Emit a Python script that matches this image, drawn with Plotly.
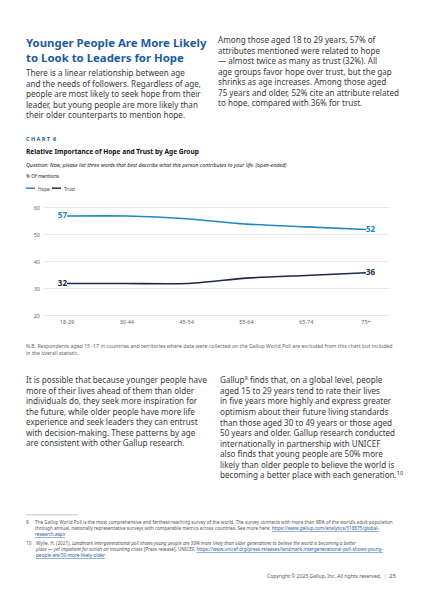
import plotly.graph_objects as go

# chart data
age_groups = ["18-29", "30-44", "45-54", "55-64", "65-74", "75+"]
hope = [57, 57, 56, 54, 53, 52]
trust = [32, 32, 32, 34, 35, 36]
y_ticks = [20, 30, 40, 50, 60]

W, H = 424, 600
OFF = 8  # the page body adds an 8px margin, so the figure is shrunk by that
BLUE = "#1d5c9f"
HOPE_C = "#2389bd"
TRUST_C = "#1b2a4c"
TEXT_C = "#3a3a3a"
FONT = "Noto Sans"
BODY = 8.1


def px(x):
    return (x - OFF) / (W - OFF)


def py(y):
    return 1 - (y - OFF) / (H - OFF)


fig = go.Figure()
for name, vals, col in [("Hope", hope, HOPE_C), ("Trust", trust, TRUST_C)]:
    fig.add_trace(go.Scatter(
        x=age_groups, y=vals, name=name, mode="lines",
        line=dict(color=col, width=1.6, shape="spline", smoothing=0.6),
        hoverinfo="skip"))
    # value labels on the first and last points only
    fig.add_trace(go.Scatter(
        x=[age_groups[0], age_groups[-1]], y=[vals[0], vals[-1]],
        mode="text", text=[str(vals[0]), str(vals[-1])],
        textposition=["middle left", "middle right"],
        textfont=dict(family=FONT, size=8, color=col, weight="bold"),
        cliponaxis=False, hoverinfo="skip"))

annotations = []


def note(x, y, text, size=BODY, color=TEXT_C, anchor="left", **kw):
    annotations.append(dict(
        x=px(x), y=py(y), xref="paper", yref="paper", text=text,
        showarrow=False, xanchor=anchor, yanchor="top", align=anchor,
        font=dict(family=FONT, size=size, color=color), **kw))


# headline + intro paragraphs
note(24, 30, "<b>Younger People Are More Likely<br>to Look to Leaders for Hope</b>",
     size=11.4, color=BLUE)
note(24, 63, "There is a linear relationship between age<br>"
             "and the needs of followers. Regardless of age,<br>"
             "people are most likely to seek hope from their<br>"
             "leader, but young people are more likely than<br>"
             "their older counterparts to mention hope.")
note(216, 29, "Among those aged 18 to 29 years, 57% of<br>"
              "attributes mentioned were related to hope<br>"
              "— almost twice as many as trust (32%). All<br>"
              "age groups favor hope over trust, but the gap<br>"
              "shrinks as age increases. Among those aged<br>"
              "75 years and older, 52% cite an attribute related<br>"
              "to hope, compared with 36% for trust.")

# chart header
note(24, 131, "<b>C H A R T  6</b>", size=5.5, color=BLUE)
note(24, 143, "<b>Relative Importance of Hope and Trust by Age Group</b>", size=6.6, color="#111111")
note(24, 158, "<i>Question: Now, please list three words that best describe what this person "
              "contributes to your life. (open-ended)</i>", size=5.3, color="#222222")
note(24, 170, "% Of mentions", size=4.8, color="#222222")

# legend (drawn by hand to keep the short swatches)
shapes = []
for x0, label, col in [(26, "Hope", HOPE_C), (52, "Trust", TRUST_C)]:
    shapes.append(dict(type="line", xref="paper", yref="paper",
                       x0=px(x0), x1=px(x0 + 9), y0=py(187), y1=py(187),
                       line=dict(color=col, width=1.5)))
    note(x0 + 10, 183, label, size=4.6, color="#444444")

# N.B. note
note(24, 340, "N.B. Respondents aged 15 -17 in countries and territories where data were collected on the "
              "Gallup World Poll are excluded from this chart but included<br>in the overall statistic.",
     size=5.2, color="#666666")

# lower body text
note(24, 373, "It is possible that because younger people have<br>"
              "more of their lives ahead of them than older<br>"
              "individuals do, they seek more inspiration for<br>"
              "the future, while older people have more life<br>"
              "experience and seek leaders they can entrust<br>"
              "with decision-making. These patterns by age<br>"
              "are consistent with other Gallup research.")
note(218, 373, "Gallup<sup>9</sup> finds that, on a global level, people<br>"
               "aged 15 to 29 years tend to rate their lives<br>"
               "in five years more highly and express greater<br>"
               "optimism about their future living standards<br>"
               "than those aged 30 to 49 years or those aged<br>"
               "50 years and older. Gallup research conducted<br>"
               "internationally in partnership with UNICEF<br>"
               "also finds that young people are 50% more<br>"
               "likely than older people to believe the world is<br>"
               "becoming a better place with each generation.<sup>10</sup>")

# footnotes
FN = 4.65
shapes.append(dict(type="line", xref="paper", yref="paper",
                   x0=px(26), x1=px(78), y0=py(517), y1=py(517),
                   line=dict(color="#999999", width=0.6)))
LINK = "<span style='color:#1d5c9f'><u>%s</u></span>"
note(24, 519.5, "9", size=FN, color="#555555")
note(33, 519.5, "The Gallup World Poll is the most comprehensive and farthest-reaching survey of the world. "
                "The survey connects with more than 98% of the world’s adult population<br>"
                "through annual, nationally representative surveys with comparable metrics across countries. "
                "See more here: " + LINK % "https://www.gallup.com/analytics/318875/global-" + "<br>"
                + LINK % "research.aspx",
     size=FN, color="#555555")
note(24, 540.5, "10", size=FN, color="#555555")
note(33, 540.5, "Wylie, H. (2021). <i>Landmark intergenerational poll shows young people are 50% more likely "
                "than older generations to believe the world is becoming a better<br>place — yet impatient "
                "for action on mounting crises</i> [Press release]. UNICEF. "
                + LINK % "https://www.unicef.org/press-releases/landmark-intergenerational-poll-shows-young-"
                + "<br>" + LINK % "people-are-50-more-likely-older",
     size=FN, color="#555555")

# page footer
note(399, 572.5, "Copyright © 2025 Gallup, Inc. All rights reserved.  "
                 "<span style='color:#999999'>|</span>  <span style='font-size:6px'>25</span>",
     size=5.0, color="#555555", anchor="right")

fig.update_layout(
    width=W - OFF, height=H - OFF,
    margin=dict(l=0, r=0, t=0, b=0),
    paper_bgcolor="white", plot_bgcolor="white",
    showlegend=False,
    annotations=annotations,
    shapes=shapes,
    xaxis=dict(domain=[px(44), px(389)], range=[-0.385, 5.385],
               showgrid=False, zeroline=False, showline=False, ticks="",
               tickfont=dict(family=FONT, size=5.5, color="#666666")),
    yaxis=dict(domain=[py(317.4), py(205.6)], range=[19.5, 60.5],
               tickvals=y_ticks, showgrid=True, gridcolor="#e8e8e8", gridwidth=0.8,
               zeroline=False, showline=False, ticks="", ticklabelstandoff=3,
               tickfont=dict(family=FONT, size=5.5, color="#666666")),
)

fig.write_html("out.html")
